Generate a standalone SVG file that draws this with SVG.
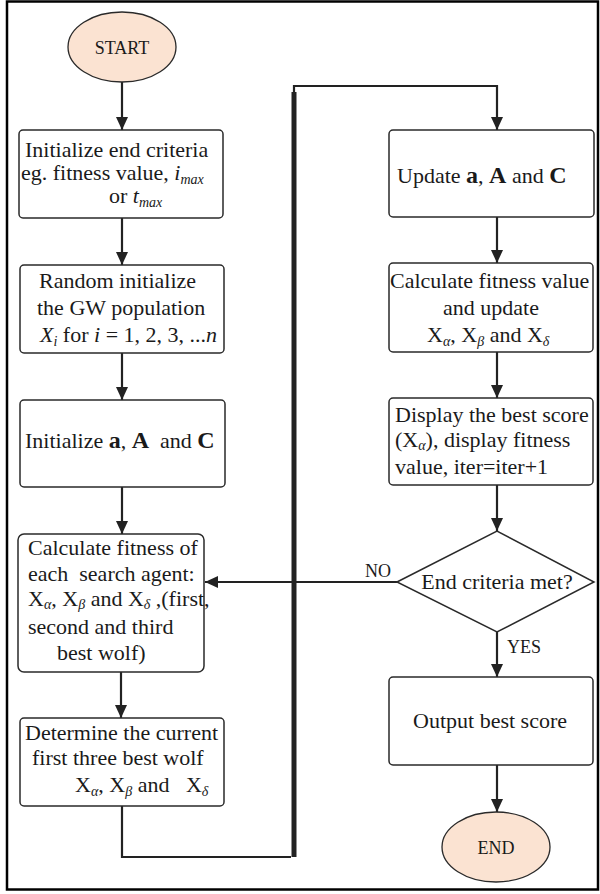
<svg xmlns="http://www.w3.org/2000/svg" width="600" height="894" viewBox="0 0 600 894">
<style>
.box{fill:#fff;stroke:#2a2a2a;stroke-width:1.5}
.term{fill:#fbe3d2;stroke:#2a2a2a;stroke-width:1.3}
.t{font-family:"Liberation Serif","Times New Roman",serif;font-size:22px;fill:#1a1a1a}
.sm{font-size:18px}
.m{font-style:italic}
.s{font-size:14px}
.b{font-weight:bold;font-size:24px}
.ln{fill:none;stroke:#222;stroke-width:2.2}
</style>
<defs>
<marker id="ah" markerUnits="userSpaceOnUse" markerWidth="14" markerHeight="12" refX="13" refY="6" orient="auto">
<path d="M0,0 L13,6 L0,12 z" fill="#222"/>
</marker>
</defs>
<rect x="7" y="1.5" width="591" height="888" fill="#fff" stroke="#000" stroke-width="2.5"/>

<g id="connectors">
<line class="ln" x1="122" y1="82" x2="122" y2="130" marker-end="url(#ah)"/>
<line class="ln" x1="122" y1="218" x2="122" y2="265" marker-end="url(#ah)"/>
<line class="ln" x1="122" y1="353" x2="122" y2="400" marker-end="url(#ah)"/>
<line class="ln" x1="122" y1="487" x2="122" y2="534" marker-end="url(#ah)"/>
<line class="ln" x1="121" y1="672" x2="121" y2="718" marker-end="url(#ah)"/>
<path class="ln" d="M122,806 V857 H291"/>
<line x1="294" y1="857" x2="294" y2="92" stroke="#222" stroke-width="5"/>
<path class="ln" d="M294,92 V86 H497 V130" marker-end="url(#ah)"/>
<line class="ln" x1="497" y1="217" x2="497" y2="263" marker-end="url(#ah)"/>
<line class="ln" x1="497" y1="352" x2="497" y2="398" marker-end="url(#ah)"/>
<line class="ln" x1="497" y1="485" x2="497" y2="531" marker-end="url(#ah)"/>
<line class="ln" x1="397" y1="582" x2="205" y2="582" marker-end="url(#ah)"/>
<line class="ln" x1="497" y1="632" x2="497" y2="677" marker-end="url(#ah)"/>
<line class="ln" x1="497" y1="765" x2="497" y2="812" marker-end="url(#ah)"/>
<text class="t sm" x="365" y="577">NO</text>
<text class="t sm" x="507" y="653">YES</text>
</g>

<g id="start">
<ellipse class="term" cx="122" cy="47" rx="54" ry="35"/>
<text class="t sm" x="122" y="54" text-anchor="middle">START</text>
</g>

<g id="init-end">
<rect class="box" x="19" y="130" width="204" height="88" rx="4"/>
<text class="t" x="25" y="157">Initialize end criteria</text>
<text class="t" x="21" y="180">eg. fitness value, <tspan class="m">i</tspan><tspan class="m s" dy="4">max</tspan></text>
<text class="t" x="109" y="203">or <tspan class="m">t</tspan><tspan class="m s" dy="4">max</tspan></text>
</g>

<g id="random-init">
<rect class="box" x="20" y="265" width="204" height="88" rx="4"/>
<text class="t" x="39" y="288">Random initialize</text>
<text class="t" x="37" y="315">the GW population</text>
<text class="t" x="40" y="342"><tspan class="m">X</tspan><tspan class="m s" dy="4">i</tspan><tspan dy="-4"> for </tspan><tspan class="m">i</tspan> = 1, 2, 3, ...<tspan class="m">n</tspan></text>
</g>

<g id="init-aAC">
<rect class="box" x="20" y="400" width="205" height="87" rx="4"/>
<text class="t" x="25" y="448" xml:space="preserve">Initialize <tspan class="b">a</tspan>, <tspan class="b">A</tspan>  and <tspan class="b">C</tspan></text>
</g>

<g id="calc-fitness">
<rect class="box" x="18" y="534" width="186" height="138" rx="6"/>
<text class="t" x="28" y="555">Calculate fitness of</text>
<text class="t" x="28" y="581" xml:space="preserve">each  search agent:</text>
<text class="t" x="28" y="606">X<tspan class="m s" dy="3">α</tspan><tspan dy="-3">, X</tspan><tspan class="m s" dy="3">β</tspan><tspan dy="-3"> and X</tspan><tspan class="m s" dy="3">δ</tspan><tspan dy="-3"> ,(first,</tspan></text>
<text class="t" x="28" y="634">second and third</text>
<text class="t" x="57" y="660">best wolf)</text>
</g>

<g id="determine">
<rect class="box" x="20" y="718" width="204" height="88" rx="4"/>
<text class="t" x="25" y="740">Determine the current</text>
<text class="t" x="32" y="765">first three best wolf</text>
<text class="t" x="75" y="792" xml:space="preserve">X<tspan class="m s" dy="4">α</tspan><tspan dy="-4">, X</tspan><tspan class="m s" dy="4">β</tspan><tspan dy="-4"> and   X</tspan><tspan class="m s" dy="4">δ</tspan></text>
</g>

<g id="update-aAC">
<rect class="box" x="389" y="130" width="205" height="87" rx="4"/>
<text class="t" x="397" y="183">Update <tspan class="b">a</tspan>, <tspan class="b">A</tspan> and <tspan class="b">C</tspan></text>
</g>

<g id="calc-update">
<rect class="box" x="389" y="263" width="204" height="89" rx="4"/>
<text class="t" x="390" y="288">Calculate fitness value</text>
<text class="t" x="491" y="315" text-anchor="middle">and update</text>
<text class="t" x="427" y="342">X<tspan class="m s" dy="4">α</tspan><tspan dy="-4">, X</tspan><tspan class="m s" dy="4">β</tspan><tspan dy="-4"> and X</tspan><tspan class="m s" dy="4">δ</tspan></text>
</g>

<g id="display">
<rect class="box" x="389" y="398" width="204" height="87" rx="4"/>
<text class="t" x="395" y="422">Display the best score</text>
<text class="t" x="395" y="447">(X<tspan class="m s" dy="3">α</tspan><tspan dy="-3">), display fitness</tspan></text>
<text class="t" x="395" y="474">value, iter=iter+1</text>
</g>

<g id="decision">
<path class="box" d="M397,582 L497,531 L594,582 L497,632 Z"/>
<text class="t" x="497" y="589" text-anchor="middle">End criteria met?</text>
</g>

<g id="output">
<rect class="box" x="389" y="677" width="204" height="88" rx="4"/>
<text class="t" x="490" y="728" text-anchor="middle">Output best score</text>
</g>

<g id="end">
<ellipse class="term" cx="496" cy="847" rx="54" ry="35"/>
<text class="t sm" x="496" y="854" text-anchor="middle">END</text>
</g>
</svg>
